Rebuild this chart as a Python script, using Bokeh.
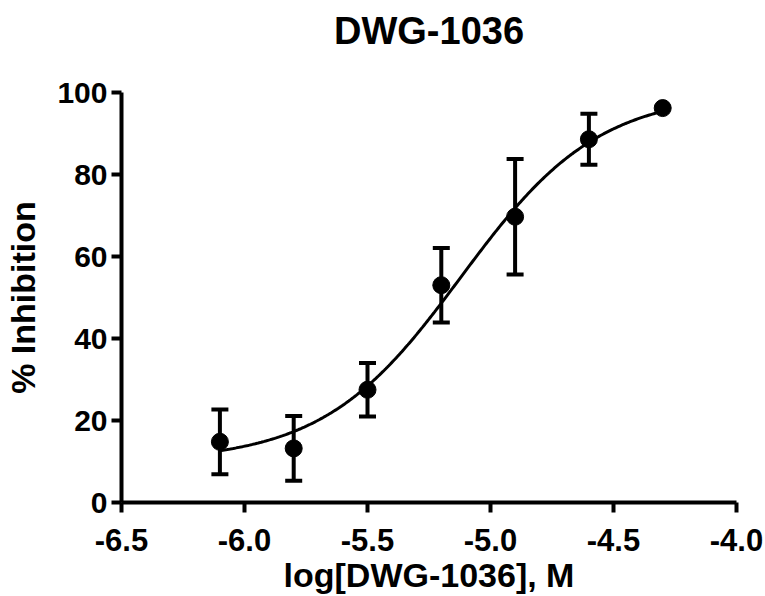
import numpy as np
from bokeh.plotting import figure
from bokeh.models import (ColumnDataSource, Range1d, FixedTicker, Whisker, TeeHead, Title)
from bokeh.embed import file_html
from bokeh.resources import INLINE

# ---- data ----
log_conc = [-6.1, -5.8, -5.5, -5.2, -4.9, -4.6, -4.3]
inhibition = [14.8, 13.2, 27.5, 53.0, 69.7, 88.6, 96.2]
sem = [7.9, 7.9, 6.5, 9.1, 14.1, 6.2, 0.0]

# four-parameter logistic fit shown as the curve (parameters)
fit_bottom = 10.0
fit_top = 100.0
fit_log_ic50 = -5.12
fit_hill = 1.55

x_ticks = [-6.5, -6.0, -5.5, -5.0, -4.5, -4.0]
x_tick_labels = ["-6.5", "-6.0", "-5.5", "-5.0", "-4.5", "-4.0"]
y_ticks = [0, 20, 40, 60, 80, 100]

title_text = "DWG-1036"
x_label = "log[DWG-1036], M"
y_label = "% Inhibition"

FONT = "Liberation Sans"

p = figure(width=765, height=596, output_backend="svg", toolbar_location=None,
           x_range=Range1d(-6.5, -4.0), y_range=Range1d(0, 100),
           min_border_left=121, min_border_right=29, min_border_top=92,
           min_border_bottom=94)

p.background_fill_color = "white"
p.border_fill_color = "white"
p.outline_line_color = None
p.xgrid.grid_line_color = None
p.ygrid.grid_line_color = None

# title (outermost in the "above" panel)
p.title.text = title_text
p.title.text_font = FONT
p.title.text_font_style = "bold"
p.title.text_font_size = "38px"
p.title.align = "center"
p.title.text_color = "black"
p.title.standoff = 10

# blank spacer between the title and the frame
spacer = Title(text=" ", text_font_size="20px", standoff=12)
p.add_layout(spacer, "above")

# axes
for ax in (p.xaxis[0], p.yaxis[0]):
    ax.axis_line_width = 4
    ax.axis_line_color = "black"
    ax.major_tick_line_width = 4
    ax.major_tick_line_color = "black"
    ax.major_tick_in = 0
    ax.major_tick_out = 10
    ax.minor_tick_line_color = None
    ax.major_label_text_font = FONT
    ax.major_label_text_font_style = "bold"
    ax.major_label_text_font_size = "30px"
    ax.major_label_text_color = "black"
    ax.axis_label_text_font = FONT
    ax.axis_label_text_font_style = "bold"
    ax.axis_label_text_font_size = "34px"
    ax.axis_label_text_color = "black"

p.xaxis.ticker = FixedTicker(ticks=x_ticks)
p.xaxis.major_label_overrides = {t: l for t, l in zip(x_ticks, x_tick_labels)}
p.xaxis.major_label_text_font_size = "31px"
p.xaxis.major_label_standoff = 16
p.xaxis.axis_label = x_label
p.xaxis.axis_label_standoff = 2

p.yaxis.ticker = FixedTicker(ticks=y_ticks)
p.yaxis.major_label_standoff = 4
p.yaxis.axis_label = y_label
p.yaxis.axis_label_standoff = 12

# fitted curve
xc = np.linspace(log_conc[0], log_conc[-1], 300)
yc = fit_bottom + (fit_top - fit_bottom) / (1 + 10 ** ((fit_log_ic50 - xc) * fit_hill))
p.line(xc, yc, line_color="black", line_width=3)

# error bars (only where sem > 0)
idx = [i for i, s in enumerate(sem) if s > 0]
err_src = ColumnDataSource(data=dict(
    x=[log_conc[i] for i in idx],
    upper=[inhibition[i] + sem[i] for i in idx],
    lower=[inhibition[i] - sem[i] for i in idx],
))
w = Whisker(base="x", upper="upper", lower="lower", source=err_src, dimension="height",
            line_width=4, line_color="black",
            upper_head=TeeHead(size=17, line_width=4, line_color="black"),
            lower_head=TeeHead(size=17, line_width=4, line_color="black"))
p.add_layout(w)

# data points
src = ColumnDataSource(data=dict(x=log_conc, y=inhibition))
p.scatter("x", "y", source=src, size=17, fill_color="black", line_color="black")

open("out.html", "w").write(file_html(p, INLINE))
